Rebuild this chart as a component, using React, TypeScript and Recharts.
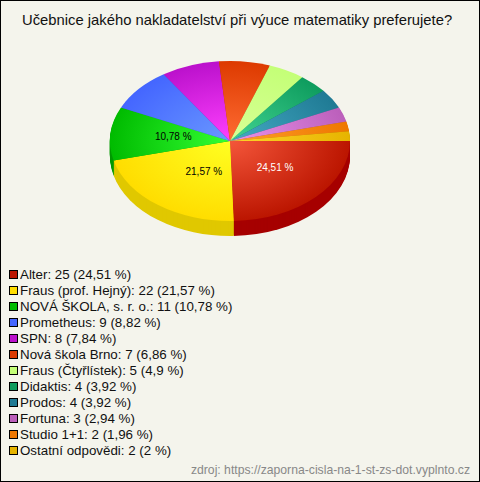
import { PieChart, Pie, Cell, Legend } from 'recharts'

const publishers = ['Alter', 'Fraus (prof. Hejný)', 'NOVÁ ŠKOLA, s. r. o.', 'Prometheus', 'SPN', 'Nová škola Brno', 'Fraus (Čtyřlístek)', 'Didaktis', 'Prodos', 'Fortuna', 'Studio 1+1', 'Ostatní odpovědi']
const counts = [25, 22, 11, 9, 8, 7, 5, 4, 4, 3, 2, 2]
const shares = ['24,51', '21,57', '10,78', '8,82', '7,84', '6,86', '4,9', '3,92', '3,92', '2,94', '1,96', '2']
const innerColors = ['#f4563a', '#ffff22', '#33ff33', '#6a98ff', '#ff40ff', '#ff6c33', '#d8ff96', '#42d492', '#45aac4', '#ea92ea', '#ffa02a', '#ffd42a']
const outerColors = ['#bb1500', '#ffdd00', '#00bb00', '#4466ff', '#bb11cc', '#dd3a00', '#c4ff77', '#0e9c5e', '#1f7a94', '#bb5fbb', '#ee7700', '#e6b400']
const sideColors = ['#a60000', '#e0c800', '#009a00', '#3355cc', '#990aa5', '#b03000', '#a0d060', '#0b7c4c', '#186276', '#964c96', '#be5f00', '#b89000']
const labelColors = ['#ffffff', '#000000', '#000000']
const labelShift = [2, 10, 3]

const tableData = publishers.map((name, i) => ({ name, value: counts[i] }))

const W = 480
const H = 482
const SQUASH = 2 / 3
const CX = 230
const CY = 140 / SQUASH
const R = 120
const DEPTH = 15
const depthLayers = Array.from({ length: DEPTH }, (_, i) => DEPTH - i)
const font = '"Liberation Sans", Arial, sans-serif'
const RAD = Math.PI / 180

// labels are not inside the squashed layer, so they get the squash by hand
const renderLabel = (props: any) => {
    const { cx, cy, midAngle, percent, index } = props
    if (percent < 0.1) return null
    const x = cx + 60 * Math.cos(midAngle * RAD) + labelShift[index]
    const y = (cy - 60 * Math.sin(midAngle * RAD)) * SQUASH - 1
    return (
        <text
            x={x}
            y={y}
            textAnchor='middle'
            dominantBaseline='central'
            fontSize={10}
            fontFamily={font}
            fill={labelColors[index]}
        >
            {shares[index]} %
        </text>
    )
}

const LegendList = () => (
    <div style={{ fontFamily: font, fontSize: 13.33, color: '#111' }}>
        {publishers.map((name, i) => (
            <div key={name} style={{ display: 'flex', alignItems: 'center', height: 16, whiteSpace: 'nowrap' }}>
                <span style={{ width: 7, height: 7, marginRight: 2, border: '1px solid #000', background: outerColors[i] }} />
                {name}: {counts[i]} ({shares[i]} %)
            </div>
        ))}
    </div>
)

const App = () => {
    return (
        <div style={{ position: 'fixed', left: 0, top: 0, width: W, height: H, boxSizing: 'border-box', border: '1px solid #000', background: '#f4f4ec', overflow: 'hidden' }}>
            <style>{`g.pie3d { transform: scaleY(${SQUASH}); transform-origin: 0 0; }`}</style>
            <div style={{ position: 'absolute', left: -1, top: 0, width: W, height: H }}>
                <PieChart width={W} height={H} margin={{ top: 0, right: 0, bottom: 0, left: 0 }}>
                    <defs>
                        {innerColors.map((c, i) => (
                            <radialGradient key={c} id={`slice${i}`} gradientUnits='userSpaceOnUse' cx={CX} cy={CY} r={R}>
                                <stop offset='0%' stopColor={c} />
                                <stop offset='100%' stopColor={outerColors[i]} />
                            </radialGradient>
                        ))}
                    </defs>
                    {depthLayers.map((d) => (
                        <Pie
                            key={d}
                            className='pie3d'
                            data={tableData}
                            dataKey='value'
                            cx={CX}
                            cy={CY + d / SQUASH}
                            outerRadius={R}
                            startAngle={0}
                            endAngle={-360}
                            stroke='none'
                            isAnimationActive={false}
                        >
                            {sideColors.map((c) => <Cell key={c} fill={c} />)}
                        </Pie>
                    ))}
                    <Pie
                        className='pie3d'
                        data={tableData}
                        dataKey='value'
                        cx={CX}
                        cy={CY}
                        outerRadius={R}
                        startAngle={0}
                        endAngle={-360}
                        stroke='none'
                        label={renderLabel}
                        labelLine={false}
                        isAnimationActive={false}
                    >
                        {innerColors.map((c, i) => <Cell key={c} fill={`url(#slice${i})`} />)}
                    </Pie>
                    <Legend content={<LegendList />} wrapperStyle={{ left: 9, top: 265, width: 300, bottom: 'auto' }} />
                </PieChart>
            </div>
            <div style={{ position: 'absolute', left: 21, top: 11, fontFamily: font, fontSize: 14.8, color: '#111', whiteSpace: 'nowrap' }}>
                Učebnice jakého nakladatelství při výuce matematiky preferujete?
            </div>
            <div style={{ position: 'absolute', right: 9, top: 462, fontFamily: font, fontSize: 12.2, color: '#888', whiteSpace: 'nowrap' }}>
                zdroj: https://zaporna-cisla-na-1-st-zs-dot.vyplnto.cz
            </div>
        </div>
    )
}

export default App
